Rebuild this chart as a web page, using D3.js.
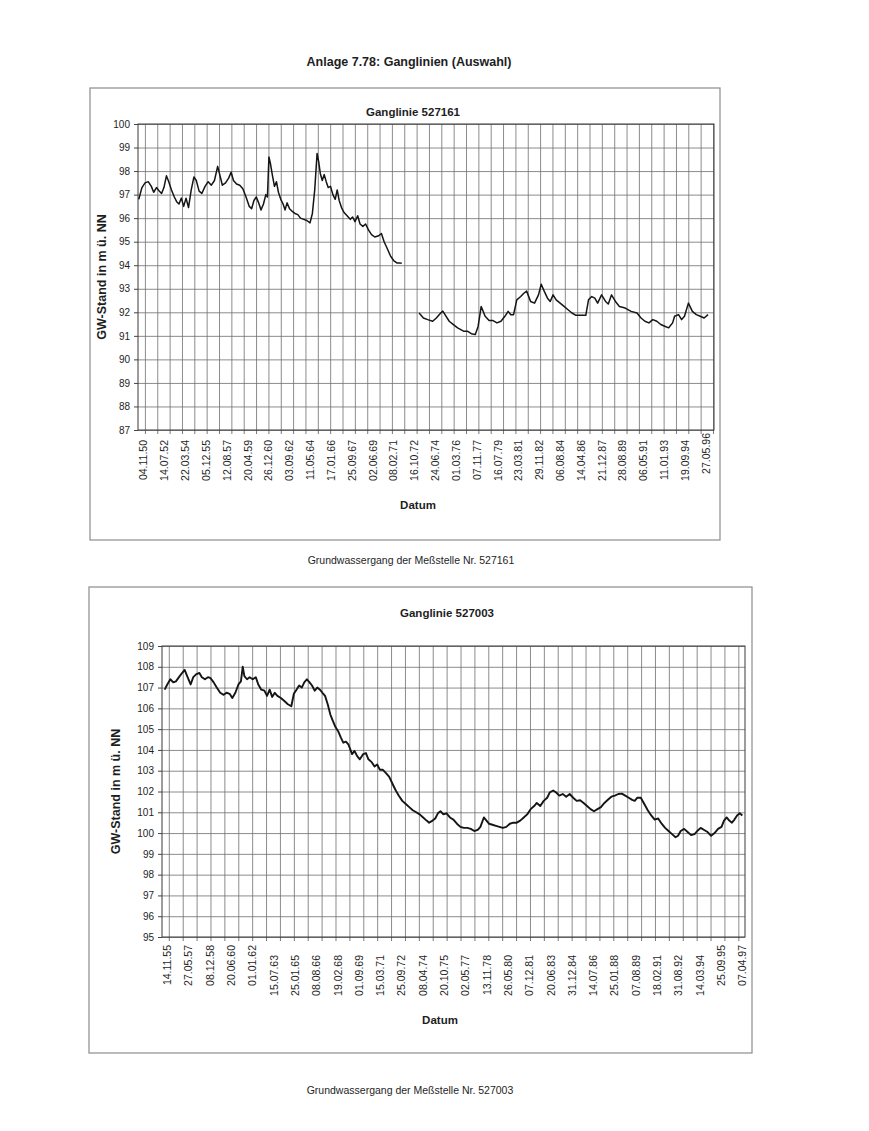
<!DOCTYPE html>
<html>
<head>
<meta charset="utf-8">
<script src="https://cdn.jsdelivr.net/npm/d3@7"></script>
<style>
body { margin: 0; background: #fff; }
text { font-family: "Liberation Sans", Arial, sans-serif; fill: #1e1e1e; }
</style>
</head>
<body>
<svg id="page" width="869" height="1131"></svg>
<script>
//Texts
var pageTitle = "Anlage 7.78: Ganglinien (Auswahl)";
var title1 = "Ganglinie 527161",
    title2 = "Ganglinie 527003",
    caption1 = "Grundwassergang der Meßstelle Nr. 527161",
    caption2 = "Grundwassergang der Meßstelle Nr. 527003",
    yTitle = "GW-Stand in m ü. NN",
    xTitle = "Datum";

//Tick labels (dd.mm.yy)
var labels1 = ["04.11.50","14.07.52","22.03.54","05.12.55","12.08.57","20.04.59","26.12.60","03.09.62",
    "11.05.64","17.01.66","25.09.67","02.06.69","08.02.71","16.10.72","24.06.74","01.03.76","07.11.77",
    "16.07.79","23.03.81","29.11.82","06.08.84","14.04.86","21.12.87","28.08.89","06.05.91","11.01.93",
    "19.09.94","27.05.96"];
var labels2 = ["14.11.55","27.05.57","08.12.58","20.06.60","01.01.62","15.07.63","25.01.65","08.08.66",
    "19.02.68","01.09.69","15.03.71","25.09.72","08.04.74","20.10.75","02.05.77","13.11.78","26.05.80",
    "07.12.81","20.06.83","31.12.84","14.07.86","25.01.88","07.08.89","18.02.91","31.08.92","14.03.94",
    "25.09.95","07.04.97"];

//Ganglinie 527161 (decimal years, m ü. NN; null = gap)
var years1 = [1950.50,1950.76,1951.01,1951.27,1951.52,1951.71,1951.94,1952.16,1952.35,1952.54,
    1952.74,1952.93,1953.15,1953.38,1953.57,1953.76,1953.95,1954.14,1954.33,1954.53,
    1954.75,1954.97,1955.16,1955.39,1955.61,1955.87,1956.12,1956.38,1956.63,1956.89,
    1957.08,1957.27,1957.53,1957.78,1957.98,1958.17,1958.42,1958.68,1958.93,1959.19,
    1959.45,1959.64,1959.83,1960.02,1960.21,1960.40,1960.60,1960.79,1960.92,1961.04,
    1961.17,1961.33,1961.49,1961.65,1961.81,1962.00,1962.19,1962.35,1962.51,1962.71,
    1962.90,1963.15,1963.38,1963.60,1963.86,1964.11,1964.37,1964.56,1964.75,1964.94,
    1965.07,1965.20,1965.36,1965.52,1965.68,1965.84,1966.03,1966.22,1966.41,1966.57,
    1966.73,1966.92,1967.11,1967.37,1967.63,1967.82,1968.01,1968.23,1968.42,1968.65,
    1968.87,1969.10,1969.35,1969.61,1969.93,1970.15,1970.37,1970.63,1970.88,1971.14,
    1971.40,1971.59,1971.80,1972.50,
    1973.20,1973.55,1973.90,1974.30,1974.60,1974.95,1975.12,1975.30,1975.64,1975.98,
    1976.32,1976.80,1977.11,1977.43,1977.75,1977.98,1978.23,1978.55,1978.87,1979.19,
    1979.51,1979.83,1980.15,1980.41,1980.63,1980.85,1981.11,1981.43,1981.68,1981.91,
    1982.23,1982.55,1982.87,1983.09,1983.35,1983.60,1983.82,1984.05,1984.30,1984.62,
    1984.94,1985.26,1985.58,1985.90,1986.22,1986.70,1986.92,1987.18,1987.43,1987.66,
    1987.98,1988.30,1988.52,1988.78,1989.10,1989.42,1989.89,1990.37,1990.85,1991.17,
    1991.49,1991.81,1992.13,1992.45,1992.77,1993.09,1993.41,1993.73,1993.89,1994.21,
    1994.46,1994.69,1995.01,1995.33,1995.65,1995.97,1996.28,1996.60];
var levels1 = [96.8,97.3,97.5,97.55,97.35,97.1,97.3,97.15,97.05,97.3,
    97.8,97.55,97.2,96.9,96.7,96.6,96.85,96.5,96.85,96.45,
    97.2,97.75,97.6,97.15,97.05,97.35,97.55,97.4,97.6,98.2,
    97.8,97.4,97.5,97.7,97.95,97.6,97.45,97.4,97.25,96.9,
    96.5,96.4,96.75,96.9,96.65,96.35,96.6,97.0,96.9,98.6,
    98.3,97.8,97.35,97.55,97.1,96.8,96.6,96.35,96.65,96.4,
    96.3,96.2,96.15,96.0,95.95,95.9,95.8,96.2,97.2,98.75,
    98.4,97.9,97.6,97.85,97.55,97.3,97.35,97.0,96.8,97.2,
    96.75,96.45,96.25,96.1,95.95,96.05,95.85,96.1,95.75,95.65,
    95.75,95.5,95.3,95.2,95.25,95.35,95.0,94.7,94.4,94.2,
    94.1,94.1,94.08,null,
    91.97,91.76,91.69,91.62,91.76,91.97,92.05,91.9,91.62,91.48,
    91.34,91.2,91.2,91.09,91.06,91.4,92.25,91.83,91.65,91.65,
    91.55,91.62,91.83,92.04,91.9,91.9,92.53,92.67,92.81,92.9,
    92.46,92.39,92.74,93.19,92.88,92.6,92.46,92.74,92.53,92.39,
    92.25,92.11,91.97,91.87,91.87,91.87,92.53,92.67,92.6,92.39,
    92.74,92.46,92.35,92.74,92.46,92.25,92.18,92.04,91.97,91.76,
    91.62,91.55,91.69,91.62,91.48,91.41,91.34,91.55,91.83,91.9,
    91.69,91.83,92.39,92.04,91.9,91.83,91.76,91.9];

//Ganglinie 527003
var years2 = [1955.70,1955.89,1956.11,1956.32,1956.51,1956.73,1956.95,1957.14,1957.35,1957.57,
    1957.76,1957.98,1958.20,1958.38,1958.60,1958.82,1959.01,1959.23,1959.45,1959.70,
    1959.95,1960.16,1960.38,1960.57,1960.79,1961.01,1961.19,1961.32,1961.44,1961.63,
    1961.82,1962.04,1962.26,1962.44,1962.66,1962.88,1963.07,1963.26,1963.44,1963.63,
    1963.82,1964.07,1964.32,1964.57,1964.82,1965.00,1965.19,1965.38,1965.57,1965.75,
    1965.94,1966.13,1966.31,1966.50,1966.69,1966.88,1967.06,1967.25,1967.44,1967.63,
    1967.81,1968.00,1968.19,1968.38,1968.56,1968.75,1968.94,1969.19,1969.37,1969.56,
    1969.75,1970.00,1970.19,1970.37,1970.62,1970.81,1971.00,1971.19,1971.40,1971.62,
    1971.87,1972.12,1972.34,1972.56,1972.81,1973.06,1973.31,1973.56,1973.81,1974.06,
    1974.31,1974.56,1974.74,1974.99,1975.18,1975.37,1975.56,1975.77,1975.99,1976.24,
    1976.49,1976.74,1976.99,1977.24,1977.49,1977.74,1977.99,1978.24,1978.43,1978.68,
    1978.87,1979.05,1979.30,1979.55,1979.80,1980.05,1980.30,1980.55,1980.80,1981.05,
    1981.30,1981.55,1981.80,1982.05,1982.30,1982.49,1982.74,1982.99,1983.24,1983.42,
    1983.67,1983.89,1984.11,1984.36,1984.61,1984.86,1985.11,1985.36,1985.61,1985.86,
    1986.11,1986.36,1986.61,1986.86,1987.11,1987.36,1987.61,1987.86,1988.11,1988.36,
    1988.61,1988.86,1989.11,1989.36,1989.54,1989.73,1989.98,1990.23,1990.48,1990.73,
    1990.98,1991.23,1991.48,1991.73,1991.98,1992.23,1992.48,1992.66,1992.85,1993.10,
    1993.35,1993.60,1993.85,1994.04,1994.29,1994.54,1994.79,1995.04,1995.29,1995.54,
    1995.79,1995.97,1996.16,1996.35,1996.54,1996.72,1996.91,1997.10,1997.29];
var levels2 = [106.9,107.15,107.4,107.25,107.3,107.5,107.7,107.85,107.5,107.15,
    107.5,107.65,107.7,107.5,107.4,107.5,107.45,107.25,107.0,106.75,
    106.65,106.75,106.7,106.5,106.75,107.15,107.3,108.0,107.55,107.4,
    107.5,107.4,107.5,107.15,106.9,106.85,106.6,106.9,106.55,106.75,
    106.6,106.5,106.35,106.2,106.1,106.7,106.9,107.1,107.0,107.25,
    107.4,107.25,107.1,106.85,107.0,106.9,106.75,106.6,106.2,105.7,
    105.4,105.1,104.9,104.6,104.35,104.4,104.25,103.8,103.95,103.7,
    103.55,103.8,103.85,103.55,103.4,103.2,103.3,103.05,103.05,102.9,
    102.7,102.35,102.05,101.8,101.55,101.4,101.25,101.1,101.0,100.9,
    100.75,100.6,100.5,100.6,100.7,100.95,101.05,100.9,100.95,100.75,
    100.65,100.45,100.3,100.25,100.25,100.2,100.1,100.15,100.3,100.75,
    100.6,100.45,100.4,100.35,100.3,100.25,100.3,100.45,100.5,100.5,
    100.6,100.75,100.9,101.15,101.3,101.45,101.3,101.55,101.7,101.95,
    102.05,101.95,101.8,101.88,101.75,101.88,101.7,101.55,101.58,101.45,
    101.3,101.15,101.05,101.15,101.25,101.45,101.6,101.75,101.8,101.88,
    101.9,101.8,101.7,101.6,101.55,101.7,101.7,101.4,101.1,100.85,
    100.65,100.7,100.45,100.25,100.1,99.95,99.8,99.87,100.1,100.2,
    100.05,99.9,99.95,100.1,100.25,100.15,100.05,99.87,100.0,100.2,
    100.3,100.6,100.75,100.6,100.5,100.65,100.85,100.95,100.85];

//Helpers
function yearToDate(y) {
    var yr = Math.floor(y),
        a = new Date(yr, 0, 1).getTime(),
        b = new Date(yr + 1, 0, 1).getTime();
    return new Date(a + (y - yr) * (b - a));
}
function parseLabel(s) {
    var p = s.split(".");
    return new Date(1900 + (+p[2]), +p[1] - 1, +p[0]);
}

var svg = d3.select("#page");
var font = "'Liberation Sans', Arial, sans-serif";

//Page title
svg.append("text")
    .attr("x", 409)
    .attr("y", 66)
    .attr("text-anchor", "middle")
    .style("font-size", "12.5px")
    .style("font-weight", "bold")
    .text(pageTitle);

function drawChart(o) {
    var g = svg.append("g");
    var w = o.right - o.left,
        h = o.bottom - o.top;

    //Frame
    g.append("rect")
        .attr("x", o.frame[0]).attr("y", o.frame[1])
        .attr("width", o.frame[2] - o.frame[0])
        .attr("height", o.frame[3] - o.frame[1])
        .attr("fill", "none")
        .attr("stroke", "#8c8c8c")
        .attr("stroke-width", 1.2);

    var x = d3.scaleTime()
        .domain([yearToDate(o.xmin), yearToDate(o.xmax)])
        .range([o.left, o.right]);
    var y = d3.scaleLinear()
        .domain([o.ymin, o.ymax])
        .range([o.bottom, o.top]);
    var yTicks = d3.range(o.ymin, o.ymax + 1);

    //Grid
    var gy = g.append("g")
        .attr("transform", "translate(" + o.left + ",0)")
        .call(d3.axisLeft(y).tickValues(yTicks).tickSize(-w).tickFormat(""));
    var gx = g.append("g")
        .attr("transform", "translate(0," + o.bottom + ")")
        .call(d3.axisBottom(x).ticks(d3.timeYear.every(1)).tickSize(-h).tickFormat(""));
    [gy, gx].forEach(function(s) {
        s.select(".domain").remove();
        s.selectAll("line").attr("stroke", "#6e6e6e").attr("stroke-width", 0.8);
    });

    //Outer tick marks
    var tx = g.append("g")
        .attr("transform", "translate(0," + o.bottom + ")")
        .call(d3.axisBottom(x).ticks(d3.timeYear.every(1)).tickSizeInner(4).tickSizeOuter(0).tickFormat(""));
    tx.select(".domain").remove();
    tx.selectAll("line").attr("stroke", "#555").attr("stroke-width", 0.8);

    //Y axis
    var ay = g.append("g")
        .attr("transform", "translate(" + o.left + ",0)")
        .call(d3.axisLeft(y).tickValues(yTicks).tickSizeInner(4).tickSizeOuter(0).tickPadding(4));
    ay.select(".domain").remove();
    ay.selectAll("line").attr("stroke", "#444");
    ay.selectAll("text")
        .style("font-family", font)
        .style("font-size", "10px")
        .attr("fill", "#222");

    //Plot border
    g.append("rect")
        .attr("x", o.left).attr("y", o.top)
        .attr("width", w).attr("height", h)
        .attr("fill", "none")
        .attr("stroke", "#3a3a3a")
        .attr("stroke-width", 1);

    //X labels
    var ax = g.append("g")
        .attr("transform", "translate(0," + o.bottom + ")")
        .call(d3.axisBottom(x)
            .tickValues(o.labels.map(parseLabel))
            .tickSize(0)
            .tickFormat(function(d, i) { return o.labels[i]; }));
    ax.select(".domain").remove();
    ax.selectAll("text")
        .attr("transform", "rotate(-90)")
        .attr("x", function(d, i) { return -(o.raised.indexOf(i) >= 0 ? o.gapRaised : o.gap); })
        .attr("y", 0)
        .attr("dy", "0.35em")
        .style("text-anchor", "end")
        .style("font-family", font)
        .style("font-size", "10.5px")
        .attr("fill", "#222");

    //Line
    var pts = o.years.map(function(d, i) { return { date: yearToDate(d), value: o.levels[i] }; });
    var line = d3.line()
        .defined(function(d) { return d.value !== null; })
        .x(function(d) { return x(d.date); })
        .y(function(d) { return y(d.value); });
    g.append("path")
        .datum(pts)
        .attr("d", line)
        .attr("fill", "none")
        .attr("stroke", "#151515")
        .attr("stroke-width", o.lineWidth)
        .attr("stroke-linejoin", "round");

    //Titles
    g.append("text")
        .attr("x", o.titleX).attr("y", o.titleY)
        .attr("text-anchor", "middle")
        .style("font-size", "11.5px")
        .style("font-weight", "bold")
        .text(o.title);
    g.append("text")
        .attr("transform", "translate(" + o.yTitleX + "," + ((o.top + o.bottom) / 2) + ") rotate(-90)")
        .attr("text-anchor", "middle")
        .style("font-size", "12.5px")
        .style("font-weight", "bold")
        .text(yTitle);
    g.append("text")
        .attr("x", o.xTitleX).attr("y", o.xTitleY)
        .attr("text-anchor", "middle")
        .style("font-size", "11.5px")
        .style("font-weight", "bold")
        .text(xTitle);
    g.append("text")
        .attr("x", o.captionX).attr("y", o.captionY)
        .attr("text-anchor", "middle")
        .style("font-size", "10.5px")
        .text(o.caption);
}

drawChart({
    frame: [90, 88, 720, 540],
    left: 138, right: 714, top: 124, bottom: 430,
    xmin: 1950.44, xmax: 1997.08, ymin: 87, ymax: 100,
    years: years1, levels: levels1, labels: labels1,
    raised: [27], gap: 10, gapRaised: 3,
    lineWidth: 1.5,
    title: title1, titleX: 413, titleY: 116,
    yTitleX: 106, xTitleX: 418, xTitleY: 509,
    caption: caption1, captionX: 411, captionY: 564
});

drawChart({
    frame: [89, 587, 752, 1053],
    left: 162, right: 745, top: 646, bottom: 937,
    xmin: 1955.51, xmax: 1997.48, ymin: 95, ymax: 109,
    years: years2, levels: levels2, labels: labels2,
    raised: [0, 1, 2, 3, 4, 26, 27], gap: 18, gapRaised: 8,
    lineWidth: 1.9,
    title: title2, titleX: 447, titleY: 617,
    yTitleX: 120, xTitleX: 440, xTitleY: 1024,
    caption: caption2, captionX: 410, captionY: 1094
});
</script>
</body>
</html>
